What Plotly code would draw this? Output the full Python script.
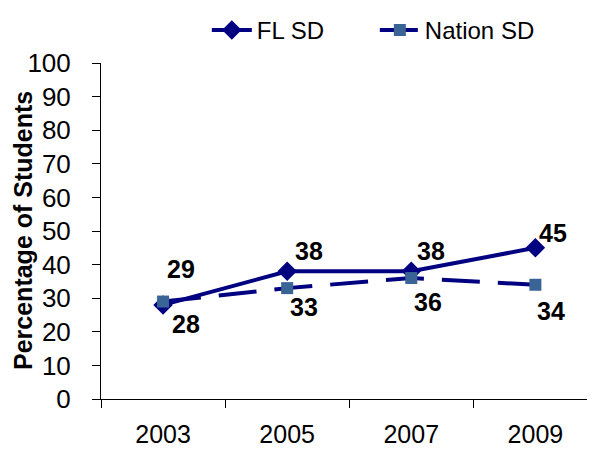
import plotly.graph_objects as go

years = ["2003", "2005", "2007", "2009"]
fl_sd = [28, 38, 38, 45]
nation_sd = [29, 33, 36, 34]
y_ticks = [0, 10, 20, 30, 40, 50, 60, 70, 80, 90, 100]

# label offsets (px) for data labels
fl_offsets = [(23, -19), (22, 20), (20, 20), (18, 15)]
nation_offsets = [(18, 33), (17, -19), (17, -24), (16, -26)]

FONT = "Liberation Sans, Arial, sans-serif"

fig = go.Figure()
fig.add_trace(go.Scatter(
    x=years, y=fl_sd, name="FL SD", mode="lines+markers",
    line=dict(color="#000080", width=4),
    marker=dict(symbol="diamond", size=15, color="#000080"),
))
fig.add_trace(go.Scatter(
    x=years, y=nation_sd, name="Nation SD", mode="lines+markers",
    line=dict(color="#000080", width=4, dash="38px,18px"),
    marker=dict(symbol="square", size=12, color="#3A6496"),
))

annotations = []
for i, (v, (dx, dy)) in enumerate(zip(fl_sd, fl_offsets)):
    annotations.append(dict(x=i, y=v, xref="x", yref="y", text=f"<b>{v}</b>",
                            showarrow=False, xshift=dx, yshift=dy,
                            font=dict(family=FONT, size=25, color="black")))
for i, (v, (dx, dy)) in enumerate(zip(nation_sd, nation_offsets)):
    annotations.append(dict(x=i, y=v, xref="x", yref="y", text=f"<b>{v}</b>",
                            showarrow=False, xshift=dx, yshift=dy,
                            font=dict(family=FONT, size=25, color="black")))
annotations.append(dict(
    x=-78 / 489, xref="paper", xanchor="center", y=0.5, yref="paper",
    text="<b>Percentage of Students</b>", textangle=-90, showarrow=False,
    font=dict(family=FONT, size=25, color="black")))

# The page body has an 8px margin, so the figure is sized/offset to compensate.
fig.update_layout(
    width=587, height=442,
    margin=dict(l=93, r=5, t=55, b=51, autoexpand=False),
    paper_bgcolor="white", plot_bgcolor="white",
    font=dict(family=FONT, size=26, color="black"),
    showlegend=True,
    legend=dict(orientation="h", x=0.56, xanchor="center",
                yref="container", y=1.0, yanchor="top",
                font=dict(family=FONT, size=24, color="black"),
                itemwidth=40, entrywidth=113, tracegroupgap=0,
                bgcolor="rgba(0,0,0,0)"),
    annotations=annotations,
    xaxis=dict(
        type="category", range=[-0.5, 3.44],
        tickson="boundaries", ticks="outside", ticklen=8, tickcolor="black",
        showline=True, linecolor="black", linewidth=1,
        showgrid=False, zeroline=False, automargin=False,
        tickfont=dict(family=FONT, size=25, color="black"),
        ticklabelstandoff=13,
    ),
    yaxis=dict(
        range=[0, 100], tickvals=y_ticks, ticks="outside", ticklen=8, tickcolor="black",
        showline=True, linecolor="black", linewidth=1,
        showgrid=False, zeroline=False, automargin=False,
        tickfont=dict(family=FONT, size=26, color="black"),
        ticklabelstandoff=16,
    ),
)

fig.write_html("out.html")
